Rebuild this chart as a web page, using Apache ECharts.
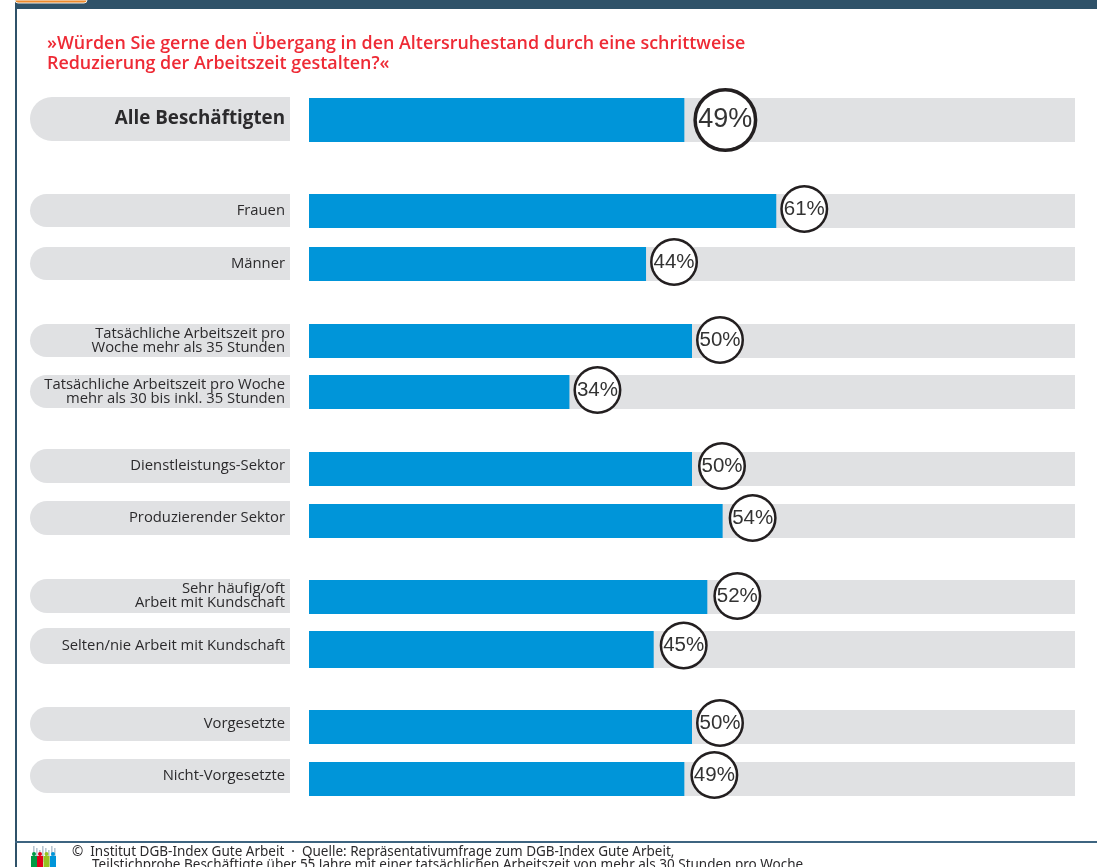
<!DOCTYPE html>
<html><head><meta charset="utf-8">
<style>html,body{margin:0;padding:0;background:#fff;overflow:hidden}#c{width:1097px;height:867px}</style>
<script src="https://cdn.jsdelivr.net/npm/echarts@6/dist/echarts.min.js"></script>
</head><body><div id="c"></div>
<script>
const categories = [
  "Alle Beschäftigten","Frauen","Männer",
  "Tatsächliche Arbeitszeit pro\nWoche mehr als 35 Stunden",
  "Tatsächliche Arbeitszeit pro Woche\nmehr als 30 bis inkl. 35 Stunden",
  "Dienstleistungs-Sektor","Produzierender Sektor",
  "Sehr häufig/oft\nArbeit mit Kundschaft","Selten/nie Arbeit mit Kundschaft",
  "Vorgesetzte","Nicht-Vorgesetzte"
];
const values = [49,61,44,50,34,50,54,52,45,50,49];
const titleText = "»Würden Sie gerne den Übergang in den Altersruhestand durch eine schrittweise\nReduzierung der Arbeitszeit gestalten?«";
const footer1 = "©  Institut DGB-Index Gute Arbeit  ·  Quelle: Repräsentativumfrage zum DGB-Index Gute Arbeit,";
const footer2 = "Teilstichprobe Beschäftigte über 55 Jahre mit einer tatsächlichen Arbeitszeit von mehr als 30 Stunden pro Woche";

// layout only
const rowTop    = [98,194,247,324,375,452,504,580,631,710,762];
const rowHeight = [44,34,34,34,34,34,34,34,37,34,34];
const pillTop   = [97,194,247,324,375,449,501,579,628,707,759];
const pillHeight= [44,33,33,33,33,34,34,34,36,34,34];
const circleUp  = [0,2,2,1,2,3,3,1,4,4,4];
const circleGap = [41,28,28,28,28,30,30,30,30,28,30];
const font = '"Open Sans","Noto Sans",sans-serif';

const grids=[],xAxes=[],yAxes=[],series=[];
categories.forEach((c,i)=>{
  const big=i===0, d=big?62:48;
  // bar row
  grids.push({left:309,width:766,top:rowTop[i],height:rowHeight[i]});
  xAxes.push({type:'value',gridIndex:2*i,min:0,max:100,show:false});
  yAxes.push({type:'category',gridIndex:2*i,data:[c],show:false});
  series.push({type:'bar',xAxisIndex:2*i,yAxisIndex:2*i,data:[values[i]],barWidth:'100%',
    showBackground:true,backgroundStyle:{color:'#e0e1e3'},
    itemStyle:{color:'#0095d9'},silent:true,animation:false,
    label:{show:true,position:'right',distance:0,formatter:'{c}%',
      width:d-5,height:d-5,lineHeight:d-5,align:'center',verticalAlign:'middle',
      offset:[circleGap[i],-circleUp[i]],
      backgroundColor:'#fff',borderColor:'#231f20',borderWidth:big?3.5:2.5,borderRadius:d/2,
      fontFamily:'"Liberation Sans",Arial,sans-serif',fontSize:big?27:20.5,color:'#333'}});
  // label pill
  grids.push({left:309,width:766,top:pillTop[i],height:pillHeight[i]});
  xAxes.push({type:'value',gridIndex:2*i+1,min:0,max:100,show:false});
  yAxes.push({type:'category',gridIndex:2*i+1,data:[c],
    axisLine:{show:false},axisTick:{show:false},splitLine:{show:false},
    axisLabel:{show:true,interval:0,margin:19,align:'right',width:255,height:pillHeight[i],
      padding:[0,5,0,0],
      backgroundColor:'#e0e1e3',borderRadius:big?[22,0,0,22]:[17,0,0,17],
      fontFamily:font,fontSize:big?18.8:14.8,fontWeight:big?700:400,
      lineHeight:14,color:'#2b2a2c',verticalAlign:'middle'}});
});

const people=[['#009a44',34],['#e2001a',40],['#95c11f',46.5],['#0095d9',53]];
const logo=[];
[33,36,39,42,45,48,51,54].forEach((x,k)=>logo.push({type:'rect',shape:{x:x,y:846+(k%3)*2,width:1.6,height:16},style:{fill:'#b9c6d2'}}));
people.forEach(p=>{
  logo.push({type:'circle',shape:{cx:p[1],cy:854,r:2},style:{fill:p[0]}});
  logo.push({type:'rect',shape:{x:p[1]-3,y:856,width:6,height:11},style:{fill:p[0]}});
});

const chart=echarts.init(document.getElementById('c'),null,{renderer:'canvas'});
chart.setOption({
  animation:false,backgroundColor:'#fff',
  title:{text:titleText,left:42,top:29,textStyle:{fontFamily:font,fontSize:17.9,fontWeight:600,color:'#ee2a35',lineHeight:20}},
  grid:grids,xAxis:xAxes,yAxis:yAxes,series:series,
  graphic:[
    {type:'rect',z:-1,shape:{x:0,y:0,width:1097,height:9},style:{fill:'#2f5269'}},
    {type:'rect',z:-1,shape:{x:0,y:0,width:15,height:9},style:{fill:'#fff'}},
    {type:'rect',z:0,shape:{x:15,y:0,width:72,height:3,r:[0,0,3,3]},style:{fill:'#ee8a2c',stroke:'#f4efe6',lineWidth:1}},
    {type:'rect',z:-1,shape:{x:15,y:9,width:2,height:858},style:{fill:'#2f5269'}},
    {type:'rect',z:-1,shape:{x:15,y:841,width:1082,height:2},style:{fill:'#3d6480'}},
    ...logo,
    {type:'text',x:72,y:845,style:{text:footer1,fontFamily:'"Noto Sans",sans-serif',fontSize:13.5,fill:'#2b2a2c'}},
    {type:'text',x:92,y:858,style:{text:footer2,fontFamily:'"Noto Sans",sans-serif',fontSize:13.5,fill:'#2b2a2c'}}
  ]
});
</script></body></html>
